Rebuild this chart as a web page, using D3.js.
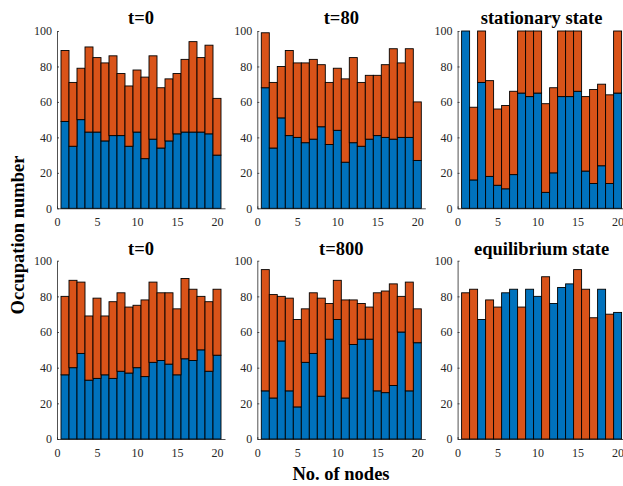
<!DOCTYPE html>
<html><head><meta charset="utf-8">
<script src="https://cdn.jsdelivr.net/npm/d3@7"></script>
<style>body{margin:0;background:#fff;overflow:hidden}</style>
</head><body>
<script>
// ---------- data ----------
const nodes = d3.range(1, 21);
const xTicks = [0, 5, 10, 15, 20];
const yTicks = [0, 20, 40, 60, 80, 100];
const titles = ["t=0", "t=80", "stationary state", "t=0", "t=800", "equilibrium state"];

const blueT0a    = [49,35,50,43,43,38,41,41,35,43,28,39,34,38,42,43,43,43,42,30];
const orangeT0a  = [40,36,29,48,42,44,45,35,34,35,46,47,34,35,34,41,51,42,50,32];
const blueT80    = [68,34,51,41,40,37,39,46,36,44,26,37,35,39,41,40,39,40,40,27];
const orangeT80  = [31,37,29,48,42,45,45,35,35,35,47,48,36,36,34,41,51,42,50,33];
const blueStat   = [100,16,71,18,13,11,19,65,63,65,9,20,63,63,66,21,14,24,14,65];
const orangeStat = [0,41,29,54,43,47,47,35,37,35,50,48,37,37,34,42,53,46,50,35];
const blueT0b    = [36,40,48,33,34,36,34,38,37,40,35,43,44,42,36,45,44,50,38,47];
const orangeT0b  = [44,49,40,36,45,33,43,44,37,35,43,45,38,40,37,45,40,30,39,37];
const blueT800   = [27,23,55,27,18,43,48,24,56,67,23,53,56,56,27,26,30,60,27,54];
const orangeT800 = [68,58,25,52,49,30,34,55,20,22,55,25,20,18,55,57,57,20,61,19];
const blueEq     = [0,0,67,0,0,82,84,0,84,80,0,76,85,87,0,0,0,84,0,71];
const orangeEq   = [82,84,0,78,74,0,0,74,0,0,91,0,0,0,95,84,68,0,70,0];

const panelSeries = [
  [blueT0a, orangeT0a], [blueT80, orangeT80], [blueStat, orangeStat],
  [blueT0b, orangeT0b], [blueT800, orangeT800], [blueEq, orangeEq]
];

// ---------- layout ----------
const W = 623, H = 486;
const colX = [57, 257.3, 457.6];
const rowY = [[31, 208.3], [260.7, 439]];
const plotW = 168;
const colors = {blue: "#0072BD", orange: "#D95319"};
const serif = "'Liberation Serif','Times New Roman',Times,serif";
const axisColor = "#262626";

const svg = d3.select("body").append("svg")
  .attr("width", W).attr("height", H)
  .style("font-family", serif);

panelSeries.forEach((ser, i) => {
  const c = i % 3, r = Math.floor(i / 3);
  const x = d3.scaleLinear().domain([0, 21]).range([colX[c], colX[c] + plotW]);
  const y = d3.scaleLinear().domain([0, 100]).range([rowY[r][1], rowY[r][0]]);
  const rows = nodes.map((n, k) => ({node: n, blue: ser[0][k], orange: ser[1][k]}));
  const stacked = d3.stack().keys(["blue", "orange"])(rows);
  const g = svg.append("g");

  // axes
  const xAxis = d3.axisBottom(x).tickValues(xTicks).tickSize(-2).tickPadding(9).tickSizeOuter(0);
  const yAxis = d3.axisLeft(y).tickValues(yTicks).tickSize(-2).tickPadding(5).tickSizeOuter(0);
  const gx = g.append("g").attr("transform", `translate(0,${y(0)})`).call(xAxis);
  const gy = g.append("g").attr("transform", `translate(${x(0)},0)`).call(yAxis);
  [gx, gy].forEach(a => {
    a.selectAll("path,line").attr("stroke", axisColor).attr("stroke-width", 0.8);
    a.selectAll("text").attr("fill", axisColor).style("font-family", serif).style("font-size", "12px");
  });

  // bars
  const bw = x(1) - x(0);
  stacked.forEach(layer => {
    g.append("g").selectAll("rect")
      .data(layer.filter(d => d[1] - d[0] > 0))
      .join("rect")
      .attr("x", d => x(d.data.node) - bw / 2)
      .attr("width", bw)
      .attr("y", d => y(d[1]))
      .attr("height", d => y(d[0]) - y(d[1]))
      .attr("fill", colors[layer.key])
      .attr("stroke", "#000")
      .attr("stroke-width", 0.9);
  });

  // title
  g.append("text")
    .attr("x", x(10.5)).attr("y", rowY[r][0] - (r === 0 ? 7 : 5.5))
    .attr("text-anchor", "middle")
    .style("font-weight", "bold").style("font-size", "18.5px")
    .attr("fill", "#000")
    .text(titles[i]);
});

// axis labels
svg.append("text")
  .attr("transform", `translate(24,235) rotate(-90)`)
  .attr("text-anchor", "middle")
  .style("font-weight", "bold").style("font-size", "18.5px")
  .text("Occupation number");

svg.append("text")
  .attr("x", 341).attr("y", 480)
  .attr("text-anchor", "middle")
  .style("font-weight", "bold").style("font-size", "18.5px")
  .text("No. of nodes");
</script>
</body></html>
